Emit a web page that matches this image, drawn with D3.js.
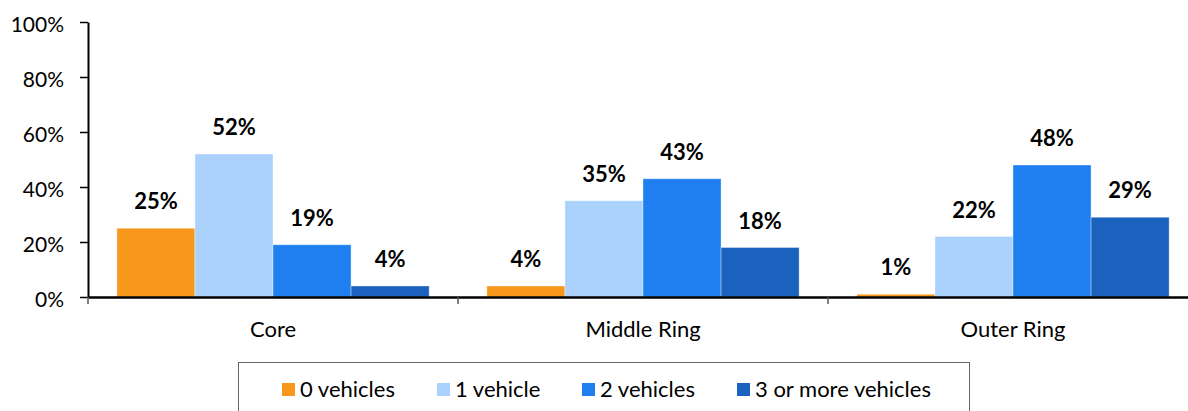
<!DOCTYPE html>
<html><head><meta charset="utf-8">
<script src="https://cdn.jsdelivr.net/npm/d3@7"></script>
<style>body{margin:0;background:#fff}svg{display:block}</style>
</head><body>
<svg id="c" width="1188" height="411"></svg>
<script>
const categories = ["Core", "Middle Ring", "Outer Ring"];
const seriesNames = ["0 vehicles", "1 vehicle", "2 vehicles", "3 or more vehicles"];
const v0 = [25, 4, 1];
const v1 = [52, 35, 22];
const v2 = [19, 43, 48];
const v3 = [4, 18, 29];
const yTicks = [0, 20, 40, 60, 80, 100];
const colors = ["#F7981D", "#AAD2FD", "#1F7FF1", "#1A62BD"];

(function () {
const series = [v0, v1, v2, v3];
const svg = d3.select("#c");
const font = "Lato, 'Open Sans', sans-serif";
const mLeft = 88, mRight = 1198, mTop = 22, mBottom = 297;

const x = d3.scaleBand().domain(categories).range([mLeft, mRight]);
const xi = d3.scaleBand().domain(seriesNames).range([0, x.bandwidth()]).paddingInner(0).paddingOuter(0.37);
const y = d3.scaleLinear().domain([0, 100]).range([mBottom, mTop]);

categories.forEach((c, ci) => {
  series.forEach((s, si) => {
    svg.append("rect")
      .attr("x", x(c) + xi(seriesNames[si]))
      .attr("y", y(s[ci]))
      .attr("width", xi.bandwidth())
      .attr("height", y(0) - y(s[ci]))
      .attr("fill", colors[si])
      .attr("stroke", "rgba(255,255,255,0.35)")
      .attr("stroke-width", 1);
    svg.append("text")
      .attr("x", x(c) + xi(seriesNames[si]) + xi.bandwidth() / 2)
      .attr("y", y(s[ci]) - 19)
      .attr("text-anchor", "middle")
      .attr("font-family", font)
      .attr("font-weight", "bold")
      .attr("font-size", 22)
      .attr("fill", "#000")
      .text(s[ci] + "%");
  });
});

const ya = svg.append("g").attr("transform", `translate(${mLeft},0)`)
  .call(d3.axisLeft(y).tickValues(yTicks).tickFormat(d => d + "%").tickSize(8).tickSizeOuter(0));
ya.select(".domain").attr("stroke", "#000").attr("stroke-width", 2);
ya.selectAll(".tick line").attr("stroke", "#000").attr("stroke-width", 1.5);
ya.selectAll(".tick text").attr("font-family", font).attr("font-size", 21).attr("fill", "#000").attr("x", -24).attr("dy", "0.45em");

const xa = svg.append("g").attr("transform", `translate(0,${mBottom})`)
  .call(d3.axisBottom(x).tickSize(0).tickSizeOuter(0));
xa.select(".domain").attr("stroke", "#000").attr("stroke-width", 2.5);
xa.selectAll(".tick text").attr("font-family", font).attr("font-size", 22).attr("fill", "#000").attr("dy", 0).attr("y", 40);
const bounds = categories.map(c => x(c)).concat([x(categories[categories.length - 1]) + x.bandwidth()]);
svg.selectAll(".xb").data(bounds).enter().append("line")
  .attr("x1", d => d).attr("x2", d => d).attr("y1", mBottom).attr("y2", mBottom + 7)
  .attr("stroke", "#555").attr("stroke-width", 1.5);

svg.append("rect").attr("x", 238.5).attr("y", 362.5).attr("width", 731).attr("height", 60)
  .attr("fill", "#fff").attr("stroke", "#666").attr("stroke-width", 1);
const lx = [282, 437, 582, 737];
seriesNames.forEach((n, i) => {
  svg.append("rect").attr("x", lx[i]).attr("y", 383).attr("width", 13).attr("height", 13).attr("fill", colors[i]);
  svg.append("text").attr("x", lx[i] + 18).attr("y", 397).attr("font-family", font).attr("font-size", 22).attr("fill", "#000").text(n);
});
})();
</script>
</body></html>
